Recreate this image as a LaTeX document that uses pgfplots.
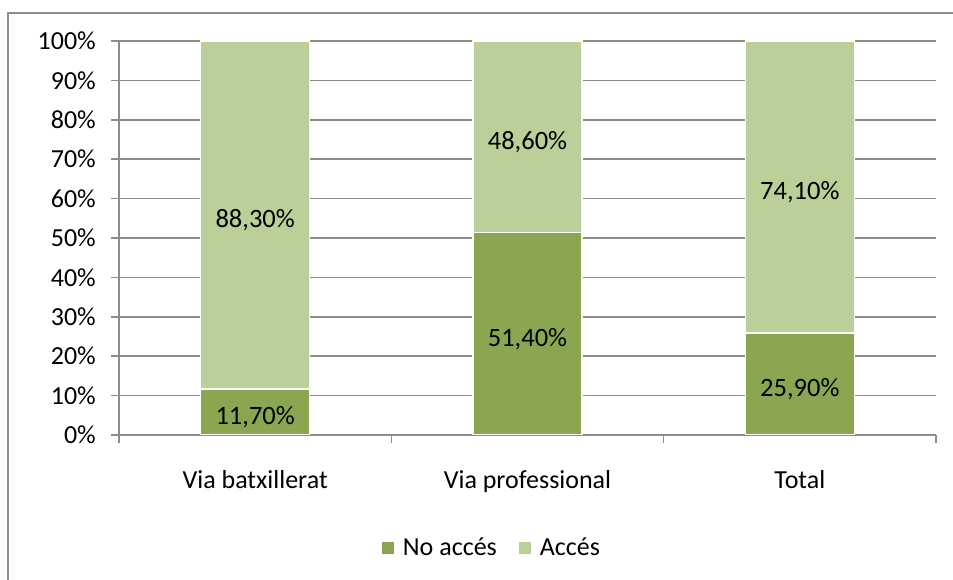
\documentclass[border=0pt]{standalone}
\usepackage{fontspec}
\setmainfont{Carlito}
\usepackage{pgfplots}
\usepackage{pgfplotstable}
\pgfplotsset{compat=1.18}

\definecolor{noacc}{HTML}{8AA650}
\definecolor{acc}{HTML}{BBCF98}
\definecolor{gridgray}{HTML}{8C8C8C}

% x: category index, no: no acces, si: acces (%)
\pgfplotstableread{
x no si
0 11.7 88.3
1 51.4 48.6
2 25.9 74.1
}\dades

\begin{document}
\fontsize{26bp}{31bp}\selectfont
\begin{tikzpicture}
\path[use as bounding box] (0,0) rectangle (953bp,580bp);
\draw[gridgray, line width=1.5bp] (8bp,-10bp) rectangle (975bp,567bp);
\begin{axis}[
  at={(119bp,145bp)}, anchor=south west,
  scale only axis,
  width=817bp, height=394bp,
  ybar stacked,
  bar width=109bp,
  xmin=-0.5, xmax=2.5,
  ymin=0, ymax=100,
  ytick={0,10,...,100},
  yticklabel={\pgfmathprintnumber{\tick}\%},
  xtick={-0.5,0.5,1.5,2.5},
  x tick label as interval,
  xticklabels={Via batxillerat,Via professional,Total},
  axis lines*=left,
  axis line style={gridgray, line width=1.5bp, -},
  ymajorgrids,
  grid style={gridgray, line width=1.5bp},
  tick style={gridgray, line width=1.5bp},
  tick align=outside,
  major tick length=8bp,
  /pgf/number format/assume math mode=true,
  tick label style={font=\fontsize{26bp}{31bp}\selectfont, text=black},
  yticklabel style={inner sep=0pt, xshift=-15bp},
  xticklabel style={inner sep=0pt, anchor=base, yshift=-45bp},
  legend style={at={(0.4565,-0.287)}, anchor=center, legend columns=-1,
    draw=none, font=\fontsize{26bp}{31bp}\selectfont,
    /tikz/every odd column/.append style={column sep=7bp},
    /tikz/every even column/.append style={column sep=20bp}},
  legend image code/.code={\fill[#1,draw=none] (0bp,-6bp) rectangle (12bp,6bp);},
  nodes near coords={\pgfmathprintnumber[fixed,fixed zerofill,precision=2,use comma]{\pgfplotspointmeta}\%},
  every node near coord/.append style={anchor=center, text=black,
    yshift=-5bp, font=\fontsize{26.5bp}{31bp}\selectfont},
]
\addplot[fill=noacc, draw=white, line width=1.5bp]
  table[x=x, y=no, meta=no, point meta=explicit] {\dades};
\addplot[fill=acc, draw=white, line width=1.5bp]
  table[x=x, y=si, meta=si, point meta=explicit] {\dades};
\legend{No accés,Accés}
\end{axis}
\end{tikzpicture}
\end{document}
